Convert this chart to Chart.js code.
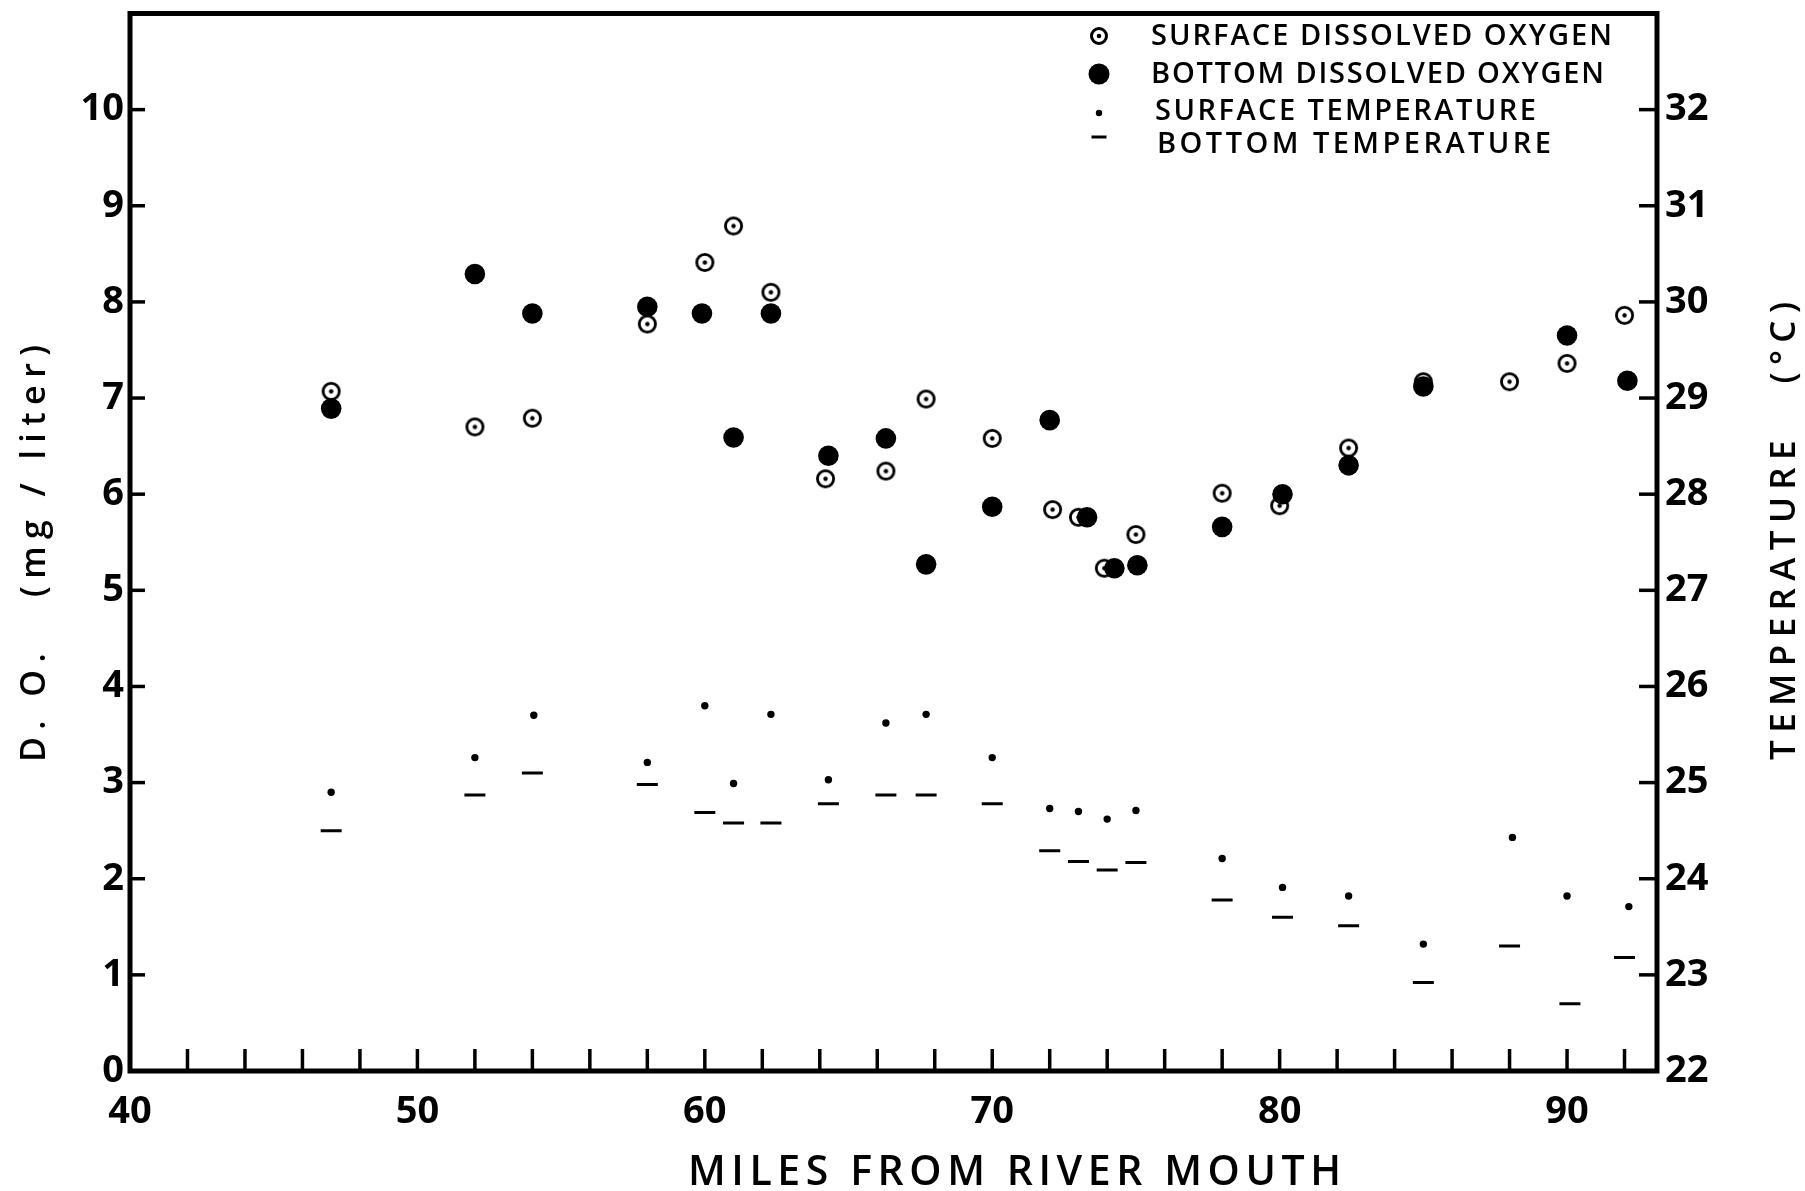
<!DOCTYPE html>
<html>
<head>
<meta charset="utf-8">
<title>Dissolved oxygen and temperature along the river</title>
<script src="https://cdn.jsdelivr.net/npm/chart.js@4.4.1/dist/chart.umd.min.js"></script>
<style>
  html, body { margin: 0; padding: 0; background: #fff; }
  #wrap { width: 1805px; height: 1191px; position: relative; }
</style>
</head>
<body>
<div id="wrap"><canvas id="chart" width="1805" height="1191"></canvas></div>
<script>
// Station distances (miles from river mouth) and readings
const surfaceDOMiles = [47, 52, 54, 58, 60, 61, 62.3, 64.2, 66.3, 67.7, 70, 72.1, 73, 73.9, 75, 78, 80, 82.4, 85, 88, 90, 92];
const surfaceDO      = [7.07, 6.70, 6.79, 7.77, 8.41, 8.79, 8.10, 6.16, 6.24, 6.99, 6.58, 5.84, 5.76, 5.23, 5.58, 6.01, 5.88, 6.48, 7.17, 7.17, 7.36, 7.86];

const bottomDOMiles  = [47, 52, 54, 58, 59.9, 61, 62.3, 64.3, 66.3, 67.7, 70, 72, 73.3, 74.25, 75.05, 78, 80.1, 82.4, 85, 90, 92.1];
const bottomDO       = [6.89, 8.29, 7.88, 7.95, 7.88, 6.59, 7.88, 6.40, 6.58, 5.27, 5.87, 6.77, 5.76, 5.23, 5.26, 5.66, 6.00, 6.30, 7.12, 7.65, 7.18];

const surfaceTempMiles = [47, 52, 54.05, 58, 60, 61, 62.3, 64.3, 66.3, 67.7, 70, 72, 73, 74, 75, 78, 80.1, 82.4, 85, 88.1, 90, 92.15];
const surfaceTemp      = [24.90, 25.26, 25.70, 25.21, 25.80, 24.99, 25.71, 25.03, 25.62, 25.71, 25.26, 24.73, 24.70, 24.62, 24.71, 24.21, 23.91, 23.82, 23.32, 24.43, 23.82, 23.71];

const bottomTempMiles  = [47, 52, 54, 58, 60, 61, 62.3, 64.3, 66.3, 67.7, 70, 72, 73, 74, 75, 78, 80.1, 82.4, 85, 88, 90.1, 92];
const bottomTemp       = [24.50, 24.87, 25.10, 24.98, 24.69, 24.58, 24.58, 24.78, 24.87, 24.87, 24.78, 24.29, 24.18, 24.09, 24.17, 23.78, 23.60, 23.51, 22.92, 23.30, 22.70, 23.18];

const seriesNames = ['SURFACE DISSOLVED OXYGEN', 'BOTTOM DISSOLVED OXYGEN', 'SURFACE TEMPERATURE', 'BOTTOM TEMPERATURE'];
const xTitle  = 'MILES FROM RIVER MOUTH';
const yTitle  = 'D. O.   (mg / liter)';
const y2Title = 'TEMPERATURE   (°C)';

const xTickLabels    = [40, 50, 60, 70, 80, 90];
const doTickLabels   = [0, 1, 2, 3, 4, 5, 6, 7, 8, 9, 10];
const tempTickLabels = [22, 23, 24, 25, 26, 27, 28, 29, 30, 31, 32];

const FONT = '"Open Sans", "DejaVu Sans", sans-serif';
const INK = '#000';

const toPoints = (xs, ys) => xs.map((x, i) => ({ x: x, y: ys[i] }));

// Ringed marker with a centre dot (surface D.O.)
function ringMarker(outerDiameter, lineWidth, dotRadius) {
  const size = Math.ceil(outerDiameter + 2);
  const c = document.createElement('canvas');
  c.width = size; c.height = size;
  const g = c.getContext('2d');
  const r = (outerDiameter - lineWidth) / 2;
  g.fillStyle = '#fff';
  g.strokeStyle = INK;
  g.lineWidth = lineWidth;
  g.beginPath(); g.arc(size / 2, size / 2, r, 0, Math.PI * 2); g.fill(); g.stroke();
  g.fillStyle = INK;
  g.beginPath(); g.arc(size / 2, size / 2, dotRadius, 0, Math.PI * 2); g.fill();
  return c;
}
const ringData = ringMarker(19, 2.8, 2.2);
const ringLegend = ringMarker(18, 3, 2.3);

// Draws a string with evenly widened letter spacing so it spans `width`
function spacedText(ctx, text, x, y, width, font, rotated) {
  ctx.save();
  ctx.font = font;
  ctx.fillStyle = INK;
  ctx.textBaseline = 'middle';
  ctx.textAlign = 'left';
  const widths = Array.from(text).map(ch => ctx.measureText(ch).width);
  const natural = widths.reduce((a, b) => a + b, 0);
  const gap = (width - natural) / (widths.length - 1);
  ctx.translate(x, y);
  if (rotated) ctx.rotate(-Math.PI / 2);
  let pos = 0;
  Array.from(text).forEach((ch, i) => {
    ctx.fillText(ch, pos, 0);
    pos += widths[i] + gap;
  });
  ctx.restore();
}

// Frame, inward tick marks, axis titles and the key
const decorations = {
  id: 'decorations',
  afterDatasetsDraw(chart) {
    const ctx = chart.ctx;
    const a = chart.chartArea;
    const xs = chart.scales.x, ys = chart.scales.y, ts = chart.scales.yT;
    ctx.save();
    ctx.strokeStyle = INK;
    ctx.lineCap = 'butt';

    // tick marks pointing into the plot
    ctx.lineWidth = 3.5;
    xs.ticks.forEach(t => {
      if (t.value <= xs.min || t.value >= xs.max) return;
      const px = xs.getPixelForValue(t.value);
      ctx.beginPath(); ctx.moveTo(px, a.bottom); ctx.lineTo(px, a.bottom - 22); ctx.stroke();
    });
    ys.ticks.forEach(t => {
      if (t.value <= ys.min || t.value >= ys.max) return;
      const py = ys.getPixelForValue(t.value);
      ctx.beginPath(); ctx.moveTo(a.left, py); ctx.lineTo(a.left + 15, py); ctx.stroke();
    });
    ts.ticks.forEach(t => {
      if (t.value <= ts.min || t.value >= ts.max) return;
      const py = ts.getPixelForValue(t.value);
      ctx.beginPath(); ctx.moveTo(a.right, py); ctx.lineTo(a.right - 18, py); ctx.stroke();
    });

    // frame
    ctx.lineWidth = 5;
    ctx.strokeRect(a.left, a.top, a.right - a.left, a.bottom - a.top);
    ctx.restore();

    // axis titles
    spacedText(ctx, xTitle, 688, 1173, 653, '600 41px ' + FONT, false);
    spacedText(ctx, yTitle, 35, 762, 417, '600 34px ' + FONT, true);
    spacedText(ctx, y2Title, 1785, 760, 458, '600 35px ' + FONT, true);

    // key
    const keyRows = [
      { sym: { x: 1099, y: 36 }, text: { x: 1151, y: 37, w: 461 } },
      { sym: { x: 1099, y: 74 }, text: { x: 1151, y: 75, w: 453 } },
      { sym: { x: 1099, y: 113 }, text: { x: 1155, y: 112, w: 381 } },
      { sym: { x: 1099, y: 137 }, text: { x: 1157, y: 145, w: 394 } }
    ];
    const keyStyles = [
      { pointStyle: ringLegend, radius: 8, rotation: 0, borderWidth: 0 },
      { pointStyle: 'circle', radius: 10.5, rotation: 0, borderWidth: 0 },
      { pointStyle: 'circle', radius: 3.2, rotation: 0, borderWidth: 0 },
      { pointStyle: 'line', radius: 7.5, rotation: 0, borderWidth: 3 }
    ];
    keyRows.forEach((row, i) => {
      ctx.save();
      ctx.fillStyle = INK; ctx.strokeStyle = INK; ctx.lineWidth = 3;
      Chart.helpers.drawPoint(ctx, keyStyles[i], row.sym.x, row.sym.y);
      ctx.restore();
      spacedText(ctx, seriesNames[i], row.text.x, row.text.y, row.text.w, '600 29px ' + FONT, false);
    });
  }
};

const fixedBox = (size, horizontal) => scale => {
  if (horizontal) scale.height = size; else scale.width = size;
  scale.paddingTop = 0; scale.paddingBottom = 0;
  scale.paddingLeft = 0; scale.paddingRight = 0;
};

new Chart(document.getElementById('chart'), {
  type: 'scatter',
  data: {
    datasets: [
      {
        label: seriesNames[1],
        data: toPoints(bottomDOMiles, bottomDO),
        yAxisID: 'y',
        order: 0,
        pointStyle: 'circle',
        pointRadius: 10.3,
        backgroundColor: INK,
        borderColor: INK,
        borderWidth: 0
      },
      {
        label: seriesNames[0],
        data: toPoints(surfaceDOMiles, surfaceDO),
        yAxisID: 'y',
        order: 1,
        pointStyle: ringData,
        pointRadius: 9.5,
        backgroundColor: INK,
        borderColor: INK
      },
      {
        label: seriesNames[2],
        data: toPoints(surfaceTempMiles, surfaceTemp),
        yAxisID: 'yT',
        order: 2,
        pointStyle: 'circle',
        pointRadius: 3.7,
        backgroundColor: INK,
        borderWidth: 0
      },
      {
        label: seriesNames[3],
        data: toPoints(bottomTempMiles, bottomTemp),
        yAxisID: 'yT',
        order: 3,
        pointStyle: 'line',
        pointRadius: 10.5,
        borderColor: INK,
        borderWidth: 3
      }
    ]
  },
  options: {
    responsive: false,
    devicePixelRatio: 1,
    animation: false,
    events: [],
    layout: { padding: { top: 10, left: 0, right: 0, bottom: 0 } },
    plugins: { legend: { display: false }, tooltip: { enabled: false } },
    scales: {
      x: {
        type: 'linear',
        position: 'bottom',
        min: 40, max: 93.13,
        border: { display: false },
        grid: { display: false, drawTicks: false },
        ticks: {
          stepSize: 2,
          includeBounds: false,
          autoSkip: false,
          maxRotation: 0,
          padding: 18,
          color: INK,
          font: { family: FONT, size: 38, weight: '700' },
          callback: v => (xTickLabels.includes(v) ? String(v) : '')
        },
        afterFit: fixedBox(120, true)
      },
      y: {
        type: 'linear',
        position: 'left',
        min: 0, max: 11,
        border: { display: false },
        grid: { display: false, drawTicks: false },
        ticks: {
          stepSize: 1,
          autoSkip: false,
          padding: 6,
          color: INK,
          font: { family: FONT, size: 38, weight: '700' },
          callback: v => (doTickLabels.includes(v) ? String(v) : '')
        },
        afterFit: fixedBox(130, false)
      },
      yT: {
        type: 'linear',
        position: 'right',
        min: 22, max: 33,
        border: { display: false },
        grid: { display: false, drawTicks: false },
        ticks: {
          stepSize: 1,
          autoSkip: false,
          padding: 8,
          color: INK,
          font: { family: FONT, size: 38, weight: '700' },
          callback: v => (tempTickLabels.includes(v) ? String(v) : '')
        },
        afterFit: fixedBox(148, false)
      }
    }
  },
  plugins: [decorations]
});
</script>
</body>
</html>
